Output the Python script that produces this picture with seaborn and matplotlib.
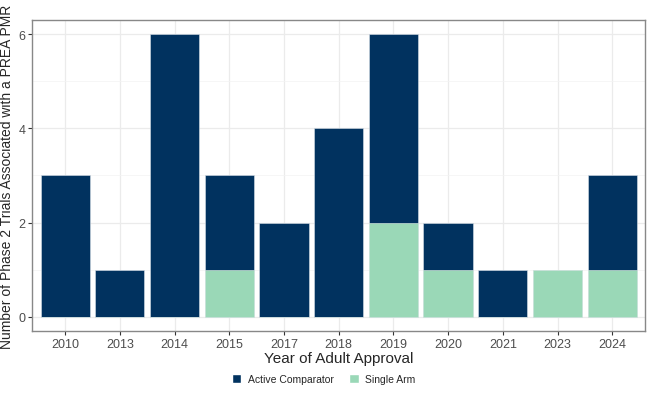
import matplotlib
matplotlib.use("Agg")
import matplotlib.pyplot as plt
from matplotlib.patches import Patch
import pandas as pd
import seaborn as sns

# --- data ---
years = ["2010", "2013", "2014", "2015", "2017", "2018", "2019", "2020", "2021", "2023", "2024"]
active_comparator = [3, 1, 6, 2, 2, 4, 4, 1, 1, 0, 2]
single_arm = [0, 0, 0, 1, 0, 0, 2, 1, 0, 1, 1]

navy = "#01325f"
green = "#9ad8b7"

df = pd.DataFrame({"year": years, "ac": active_comparator, "sa": single_arm})
df["total"] = df["ac"] + df["sa"]

sns.set_theme(style="whitegrid")
plt.rcParams["font.family"] = ["Liberation Sans", "DejaVu Sans"]

fig = plt.figure(figsize=(6.47, 4.02), dpi=100)
ax = fig.add_axes([0.05, 0.174, 0.947, 0.774])

# stacked: total in navy, single arm drawn over the bottom part
sns.barplot(data=df, x="year", y="total", color=navy, width=0.9,
            saturation=1, ax=ax, zorder=3, edgecolor="#d8e0e8", linewidth=0.4)
sns.barplot(data=df, x="year", y="sa", color=green, width=0.9,
            saturation=1, ax=ax, zorder=4, edgecolor="#e6f4ec", linewidth=0.4)

ax.set_ylim(-0.3, 6.3)
ax.set_xlim(-0.6, len(years) - 0.4)
ax.set_yticks([0, 2, 4, 6])
ax.set_yticks([1, 3, 5], minor=True)

ax.grid(True, which="major", color="#ebebeb", linewidth=0.9, zorder=0)
ax.grid(True, which="minor", axis="y", color="#f3f3f3", linewidth=0.5, zorder=0)
ax.set_axisbelow(True)
for s in ax.spines.values():
    s.set_color("#888888")
    s.set_linewidth(1.0)

ax.tick_params(axis="both", which="major", length=3, width=0.8, color="#333333",
               labelsize=9, labelcolor="#4d4d4d", pad=2, bottom=True, left=True)
ax.tick_params(axis="both", which="minor", length=0)

ax.set_xlabel("Year of Adult Approval", fontsize=11, labelpad=1)
ax.set_ylabel("Number of Phase 2 Trials Associated with a PREA PMR", fontsize=10, labelpad=3)

handles = [Patch(facecolor=navy, label="Active Comparator"),
           Patch(facecolor=green, label="Single Arm")]
fig.legend(handles=handles, loc="center", bbox_to_anchor=(0.5, 0.055), ncol=2,
           frameon=False, fontsize=7.5, handlelength=0.9, handleheight=0.9,
           columnspacing=1.5, handletextpad=0.6)

fig.savefig("out.png", dpi=100)
